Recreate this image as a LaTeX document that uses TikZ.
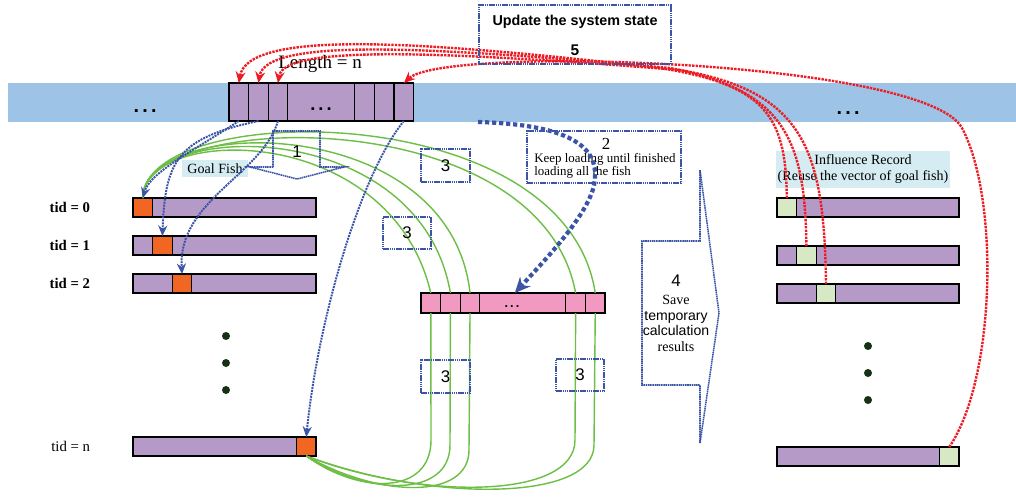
\documentclass[tikz,border=0pt]{standalone}
\usepackage{fontspec}
\setmainfont{Liberation Serif}
\setsansfont{Liberation Sans}
\usetikzlibrary{positioning,arrows.meta}
\definecolor{bandblue}{RGB}{157,195,230}
\definecolor{fishpurple}{RGB}{181,154,200}
\definecolor{goalorange}{RGB}{241,102,34}
\definecolor{tmppink}{RGB}{242,153,194}
\definecolor{inflgreen}{RGB}{214,232,196}
\definecolor{tagcyan}{RGB}{213,236,242}
\definecolor{stepblue}{RGB}{59,84,168}
\definecolor{updred}{RGB}{237,28,36}
\definecolor{fangreen}{RGB}{108,190,69}
\definecolor{dotgreen}{RGB}{22,50,22}

\begin{document}
\begin{tikzpicture}[x=0.025cm, y=-0.025cm,
  vcell/.style={draw, line width=0.9pt, fill=fishpurple, minimum width=0.49cm, minimum height=0.95cm, inner sep=0pt, outer sep=0pt},
  pcell/.style={draw, line width=0.9pt, fill=tmppink, minimum width=0.49cm, minimum height=0.5cm, inner sep=0pt, outer sep=0pt},
  fishbar/.style={draw, line width=0.9pt, fill=fishpurple, minimum width=4.575cm, minimum height=0.475cm, inner sep=0pt, outer sep=0pt, anchor=north west},
  goalcell/.style={draw, line width=0.9pt, fill=goalorange, minimum width=0.49cm, minimum height=0.475cm, inner sep=0pt, outer sep=0pt},
  inflcell/.style={goalcell, fill=inflgreen},
  tidlbl/.style={font=\fontsize{10.5}{12}\selectfont\bfseries},
  fishtag/.style={fill=tagcyan, inner sep=1pt, font=\fontsize{10}{11.4}\selectfont},
  bluedots/.style={stepblue, line width=1.1pt, dash pattern=on 1.1pt off 0.45pt},
  stepbox/.style={draw=stepblue, line width=1.1pt, dash pattern=on 1.1pt off 0.45pt, inner sep=0pt},
  stepnum/.style={font=\sffamily\fontsize{12}{12}\selectfont},
  loadline/.style={stepblue, line width=1.4pt, dash pattern=on 1.4pt off 0.7pt, -{Stealth[length=7.5pt,width=6.5pt]}},
  updline/.style={updred, line width=1.7pt, dash pattern=on 1.7pt off 0.8pt, -{Stealth[length=8pt,width=7pt]}},
  fanline/.style={fangreen, line width=1pt},
  ellip/.style={font=\sffamily\bfseries\fontsize{14}{14}\selectfont, inner sep=1pt}
]
\useasboundingbox (0,0) rectangle (1016,496);

% system state band
\fill[bandblue] (8,83) rectangle (1016,122);
\node[ellip] (bandl) at (145,111) {.\,.\,.};
\node[ellip] (bandr) at (848,113) {.\,.\,.};

% fish vector in the system state
\node[vcell, anchor=north west] (t1) at (229,83) {};
\node[vcell, right=0pt of t1] (t2) {};
\node[vcell, right=0pt of t2] (t3) {};
\node[vcell, right=0pt of t3, minimum width=1.675cm] (tmid) {};
\node[vcell, right=0pt of tmid] (t5) {};
\node[vcell, right=0pt of t5] (t6) {};
\node[vcell, right=0pt of t6] (t7) {};
\node[ellip, font=\sffamily\bfseries\fontsize{13}{13}\selectfont] (tdots) at (321,109) {.\,.\,.};
\node[font=\fontsize{13.5}{14}\selectfont] (lenlbl) at (320,64) {Length = n};

% goal fish of every thread
\node[fishbar] (g0) at (133,198) {};
\node[fishbar, below=0.475cm of g0] (g1) {};
\node[fishbar, below=0.475cm of g1] (g2) {};
\node[fishbar] (gn) at (133,437) {};
\node[goalcell, anchor=west] (o0) at (g0.west) {};
\node[goalcell, anchor=west] (o1) at ([xshift=0.49cm]g1.west) {};
\node[goalcell, anchor=west] (o2) at ([xshift=0.98cm]g2.west) {};
\node[goalcell, anchor=east] (on) at (gn.east) {};
\node[tidlbl, left=0.95cm of g0] (tid0) {tid = 0};
\node[tidlbl, left=0.95cm of g1] (tid1) {tid = 1};
\node[tidlbl, left=0.95cm of g2] (tid2) {tid = 2};
\node[tidlbl, font=\fontsize{10.5}{12}\selectfont, left=0.95cm of gn] (tidn) {tid = n};
\foreach \yy in {336,363,390} \fill[dotgreen] (226,\yy) circle (0.1cm);
\node[fishtag, minimum width=1.65cm, minimum height=0.425cm] (goaltag) at (215,168.5) {Goal Fish};

% temporary vector
\node[pcell, anchor=north west] (p1) at (421,293) {};
\node[pcell, right=0pt of p1] (p2) {};
\node[pcell, right=0pt of p2] (p3) {};
\node[pcell, right=0pt of p3, minimum width=2.15cm] (pdots) {};
\node[pcell, right=0pt of pdots] (p5) {};
\node[pcell, right=0pt of p5] (p6) {};
\node[font=\sffamily\bfseries\fontsize{9}{9}\selectfont, inner sep=1pt] (pdotstxt) at (512,307) {.\,.\,.};

% influence record
\node[fishbar, minimum width=4.55cm] (r1) at (777,198) {};
\node[fishbar, minimum width=4.55cm] (r2) at (777,246) {};
\node[fishbar, minimum width=4.55cm] (r3) at (777,284) {};
\node[fishbar, minimum width=4.55cm] (rn) at (777,447) {};
\node[inflcell, anchor=west] (c1) at (r1.west) {};
\node[inflcell, anchor=west] (c2) at ([xshift=0.49cm]r2.west) {};
\node[inflcell, anchor=west] (c3) at ([xshift=0.98cm]r3.west) {};
\node[inflcell, anchor=east] (cn) at (rn.east) {};
\foreach \yy in {346,373,400} \fill[dotgreen] (868,\yy) circle (0.1cm);
\node[fishtag, minimum width=4.3cm, minimum height=0.925cm, align=center] (infltag) at (863,169.5) {Influence Record\\(Reuse the vector of goal fish)};

% step 3: green fan
\draw[fanline] (o0.north) .. controls (143,125) and (390,120) .. (p1.north);
\draw[fanline] (o0.north) .. controls (143,120) and (420,115) .. (p2.north);
\draw[fanline] (o0.north) .. controls (143,115) and (450,110) .. (p3.north);
\draw[fanline] (o0.north) .. controls (143,110) and (540,100) .. (p5.north);
\draw[fanline] (o0.north) .. controls (143,100) and (565,95) .. (p6.north);
\draw[fanline] (p1.south) -- (431,440) .. controls (431,495) and (360,495) .. (on.south);
\draw[fanline] (p2.south) -- (450,445) .. controls (450,497) and (370,497) .. (on.south);
\draw[fanline] (p3.south) -- (469,450) .. controls (469,500) and (380,498) .. (on.south);
\draw[fanline] (p5.south) -- (575,440) .. controls (575,500) and (420,500) .. (on.south);
\draw[fanline] (p6.south) -- (594,445) .. controls (594,502) and (430,502) .. (on.south);
\node[stepbox, stepnum, minimum width=1.225cm, minimum height=0.825cm] (s3a) at (445.5,165.5) {3};
\node[stepbox, stepnum, minimum width=1.2cm, minimum height=0.8cm] (s3b) at (407,233) {3};
\node[stepbox, stepnum, minimum width=1.225cm, minimum height=0.825cm] (s3c) at (445.5,376.5) {3};
\node[stepbox, stepnum, minimum width=1.2cm, minimum height=0.8cm] (s3d) at (580,375) {3};

% step 1: load the goal fish
\draw[loadline] (t1.south) .. controls (195,150) and (150,172) .. (o0.north);
\draw[loadline] (t2.south) .. controls (178,138) and (165,160) .. (o1.north);
\draw[loadline] (t3.south) .. controls (262,175) and (178,200) .. (o2.north);
\draw[loadline] (t7.south) .. controls (360,175) and (318,320) .. (on.north);
\draw[bluedots] (273,167) -- (273,131) -- (320,131) -- (320,167) -- (344,167) -- (297,179) -- (250,167) -- cycle;
\node[stepnum] (num1) at (297,152) {1};

% step 2: keep loading
\node[stepbox, minimum width=3.85cm, minimum height=1.3cm] (box2) at (604,157) {};
\node[font=\fontsize{12}{12}\selectfont] (num2) at (606,144) {2};
\node[align=left, anchor=west, inner sep=0pt, font=\fontsize{9.2}{9.3}\selectfont] (box2txt) at (534,166) {Keep loading until finished\\loading all the fish};
\coordinate (ld) at (478,122);
\draw[stepblue, line width=3pt, dash pattern=on 3pt off 2pt, -{Stealth[length=11pt,width=10pt]}] (ld) .. controls (585,125) and (600,155) .. (594,185) .. controls (588,215) and (545,260) .. ([xshift=-0.2cm]pdots.north);

% step 4: save temporary results
\draw[bluedots] (700,170) -- (700,241) -- (642,241) -- (642,385) -- (700,385) -- (700,443) -- (719,313) -- cycle;
\node[align=center, font=\fontsize{10}{11}\selectfont] (num4) at (676,313) {{\sffamily\fontsize{12}{12}\selectfont 4}\\[2pt]Save\\{\sffamily temporary}\\{\sffamily calculation}\\results};

% step 5: update the system state
\draw[updline] (c1.north) .. controls (786,115) and (765,85) .. (660,68) .. controls (430,42) and (248,28) .. (t1.north);
\draw[updline] (c2.north) .. controls (805,140) and (785,90) .. (670,68) .. controls (440,48) and (266,36) .. (t2.north);
\draw[updline] (c3.north) .. controls (824,150) and (805,92) .. (680,70) .. controls (450,52) and (284,44) .. (t3.north);
\draw[updline] (cn.north) .. controls (995,380) and (1000,200) .. (962,128) .. controls (925,60) and (445,45) .. (t7.north);
\node[stepbox, minimum width=4.8cm, minimum height=1.475cm] (updbox) at (575,34.5) {};
\node[font=\sffamily\bfseries\fontsize{10.2}{12}\selectfont] (updtxt) at (575,22) {Update the system state};
\node[font=\sffamily\bfseries\fontsize{11}{12}\selectfont] (updnum) at (575,50) {5};
\end{tikzpicture}
\end{document}
